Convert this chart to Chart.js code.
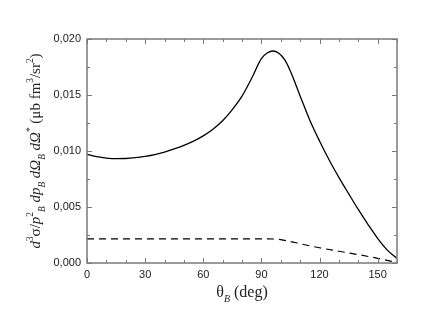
<!DOCTYPE html>
<html>
<head>
<meta charset="utf-8">
<script src="https://cdn.jsdelivr.net/npm/chart.js@4.4.0/dist/chart.umd.min.js"></script>
<style>
  html, body { margin: 0; padding: 0; background: #fff; }
  #wrap { width: 436px; height: 323px; }
</style>
</head>
<body>
<div id="wrap"><canvas id="chart" width="436" height="323"></canvas></div>
<script>
// Données
const thetaSolid = [0, 5, 10, 15, 20, 25, 30, 35, 40, 45, 50, 55, 60, 65, 70, 75, 80, 85, 90, 93, 96, 99, 102, 105, 110, 115, 120, 125, 130, 135, 140, 145, 150, 155, 160];
const sigmaSolid = [0.00970, 0.00950, 0.00937, 0.00932, 0.00933, 0.00940, 0.00952, 0.00968, 0.00990, 0.01018, 0.01050, 0.01088, 0.01135, 0.01195, 0.01270, 0.01370, 0.01490, 0.01650, 0.01825, 0.01875, 0.01893, 0.01872, 0.01815, 0.01712, 0.01492, 0.01275, 0.01090, 0.00920, 0.00765, 0.00620, 0.00478, 0.00345, 0.00220, 0.00115, 0.00040];

const thetaDashed = [0, 30, 60, 90, 97, 105, 110, 120, 130, 140, 150, 160];
const sigmaDashed = [0.00215, 0.00215, 0.00215, 0.00215, 0.00214, 0.00192, 0.00172, 0.00136, 0.00105, 0.00075, 0.00042, 0.00005];

const xTicks = [0, 30, 60, 90, 120, 150];
const xMinor = [10, 20, 40, 50, 70, 80, 100, 110, 130, 140, 160];
const yTicks = [0, 0.005, 0.010, 0.015, 0.020];
const yMinor = [0.0025, 0.0075, 0.0125, 0.0175];

const axisColor = '#7a7a7a';
const textColor = '#222';

function toPoints(xs, ys) {
    return xs.map((x, i) => ({ x: x, y: ys[i] }));
}

// Texte avec indices / exposants
function drawRich(ctx, segs, size) {
    const font = (s, it) => (it ? 'italic ' : '') + s + 'px "Liberation Serif", "DejaVu Serif", serif';
    let total = 0;
    segs.forEach(s => {
        const sz = s.pos ? size * 0.62 : size;
        ctx.font = font(sz, s.it);
        s.w = ctx.measureText(s.t).width;
        total += s.w;
    });
    let x = -total / 2;
    segs.forEach(s => {
        const sz = s.pos ? size * 0.62 : size;
        ctx.font = font(sz, s.it);
        let dy = 0;
        if (s.pos === 'sub') dy = size * 0.32;
        if (s.pos === 'sup') dy = -size * 0.45;
        ctx.fillText(s.t, x, dy);
        x += s.w;
    });
}

const framePlugin = {
    id: 'frame',
    afterDraw(chart) {
        const ctx = chart.ctx;
        const a = chart.chartArea;
        const xs = chart.scales.x;
        const ys = chart.scales.y;
        ctx.save();
        ctx.strokeStyle = axisColor;
        ctx.lineWidth = 1.5;
        ctx.strokeRect(a.left, a.top, a.right - a.left, a.bottom - a.top);

        ctx.lineWidth = 1;
        ctx.beginPath();
        const tickX = (v, len) => {
            const px = Math.round(xs.getPixelForValue(v)) + 0.5;
            ctx.moveTo(px, a.bottom); ctx.lineTo(px, a.bottom - len);
            ctx.moveTo(px, a.top); ctx.lineTo(px, a.top + len);
        };
        const tickY = (v, len) => {
            const py = Math.round(ys.getPixelForValue(v)) + 0.5;
            ctx.moveTo(a.left, py); ctx.lineTo(a.left + len, py);
            ctx.moveTo(a.right, py); ctx.lineTo(a.right - len, py);
        };
        xTicks.forEach(v => tickX(v, 5));
        xMinor.forEach(v => tickX(v, 3));
        yTicks.forEach(v => tickY(v, 5));
        yMinor.forEach(v => tickY(v, 3));
        ctx.stroke();

        // titres des axes
        ctx.fillStyle = textColor;
        ctx.textBaseline = 'alphabetic';
        ctx.textAlign = 'left';

        ctx.save();
        ctx.translate((a.left + a.right) / 2, 297);
        drawRich(ctx, [
            { t: 'θ' }, { t: 'B', it: true, pos: 'sub' }, { t: ' (deg)' }
        ], 16);
        ctx.restore();

        ctx.save();
        ctx.translate(40, (a.top + a.bottom) / 2);
        ctx.rotate(-Math.PI / 2);
        drawRich(ctx, [
            { t: 'd', it: true }, { t: '3', pos: 'sup' }, { t: 'σ/' }, { t: 'p', it: true },
            { t: '2', pos: 'sup' }, { t: 'B', it: true, pos: 'sub' }, { t: ' dp', it: true },
            { t: 'B', it: true, pos: 'sub' }, { t: ' d', it: true }, { t: 'Ω', it: true },
            { t: 'B', it: true, pos: 'sub' }, { t: ' d', it: true }, { t: 'Ω', it: true },
            { t: '*', pos: 'sup' }, { t: ' (μb fm' }, { t: '3', pos: 'sup' }, { t: '/sr' },
            { t: '2', pos: 'sup' }, { t: ')' }
        ], 15);
        ctx.restore();
        ctx.restore();
    }
};

const bgPlugin = {
    id: 'bg',
    beforeDraw(chart) {
        const ctx = chart.ctx;
        ctx.save();
        ctx.fillStyle = '#fff';
        ctx.fillRect(0, 0, chart.width, chart.height);
        ctx.restore();
    }
};

new Chart(document.getElementById('chart'), {
    type: 'line',
    data: {
        datasets: [{
            data: toPoints(thetaSolid, sigmaSolid),
            borderColor: '#000',
            borderWidth: 1.3,
            pointRadius: 0,
            cubicInterpolationMode: 'monotone',
            fill: false
        }, {
            data: toPoints(thetaDashed, sigmaDashed),
            borderColor: '#000',
            borderWidth: 1.2,
            borderDash: [7, 5],
            pointRadius: 0,
            cubicInterpolationMode: 'monotone',
            fill: false
        }]
    },
    options: {
        responsive: false,
        animation: false,
        events: [],
        layout: { padding: { left: 0, right: 39, top: 39, bottom: 0 } },
        plugins: {
            legend: { display: false },
            tooltip: { enabled: false }
        },
        scales: {
            x: {
                type: 'linear',
                min: 0,
                max: 160,
                grid: { display: false, drawTicks: false, tickLength: 0 },
                border: { display: false },
                afterBuildTicks: s => { s.ticks = xTicks.map(v => ({ value: v })); },
                afterFit: s => { s.height = 60; },
                ticks: {
                    padding: 5,
                    color: textColor,
                    font: { family: '"Liberation Sans", Arial, sans-serif', size: 11 },
                    maxRotation: 0,
                    callback: v => String(v)
                }
            },
            y: {
                type: 'linear',
                min: 0,
                max: 0.020,
                grid: { display: false, drawTicks: false, tickLength: 0 },
                border: { display: false },
                afterBuildTicks: s => { s.ticks = yTicks.map(v => ({ value: v })); },
                afterFit: s => { s.width = 87; },
                ticks: {
                    padding: 6,
                    color: textColor,
                    font: { family: '"Liberation Sans", Arial, sans-serif', size: 11 },
                    callback: v => v.toFixed(3).replace('.', ',')
                }
            }
        }
    },
    plugins: [bgPlugin, framePlugin]
});
</script>
</body>
</html>
